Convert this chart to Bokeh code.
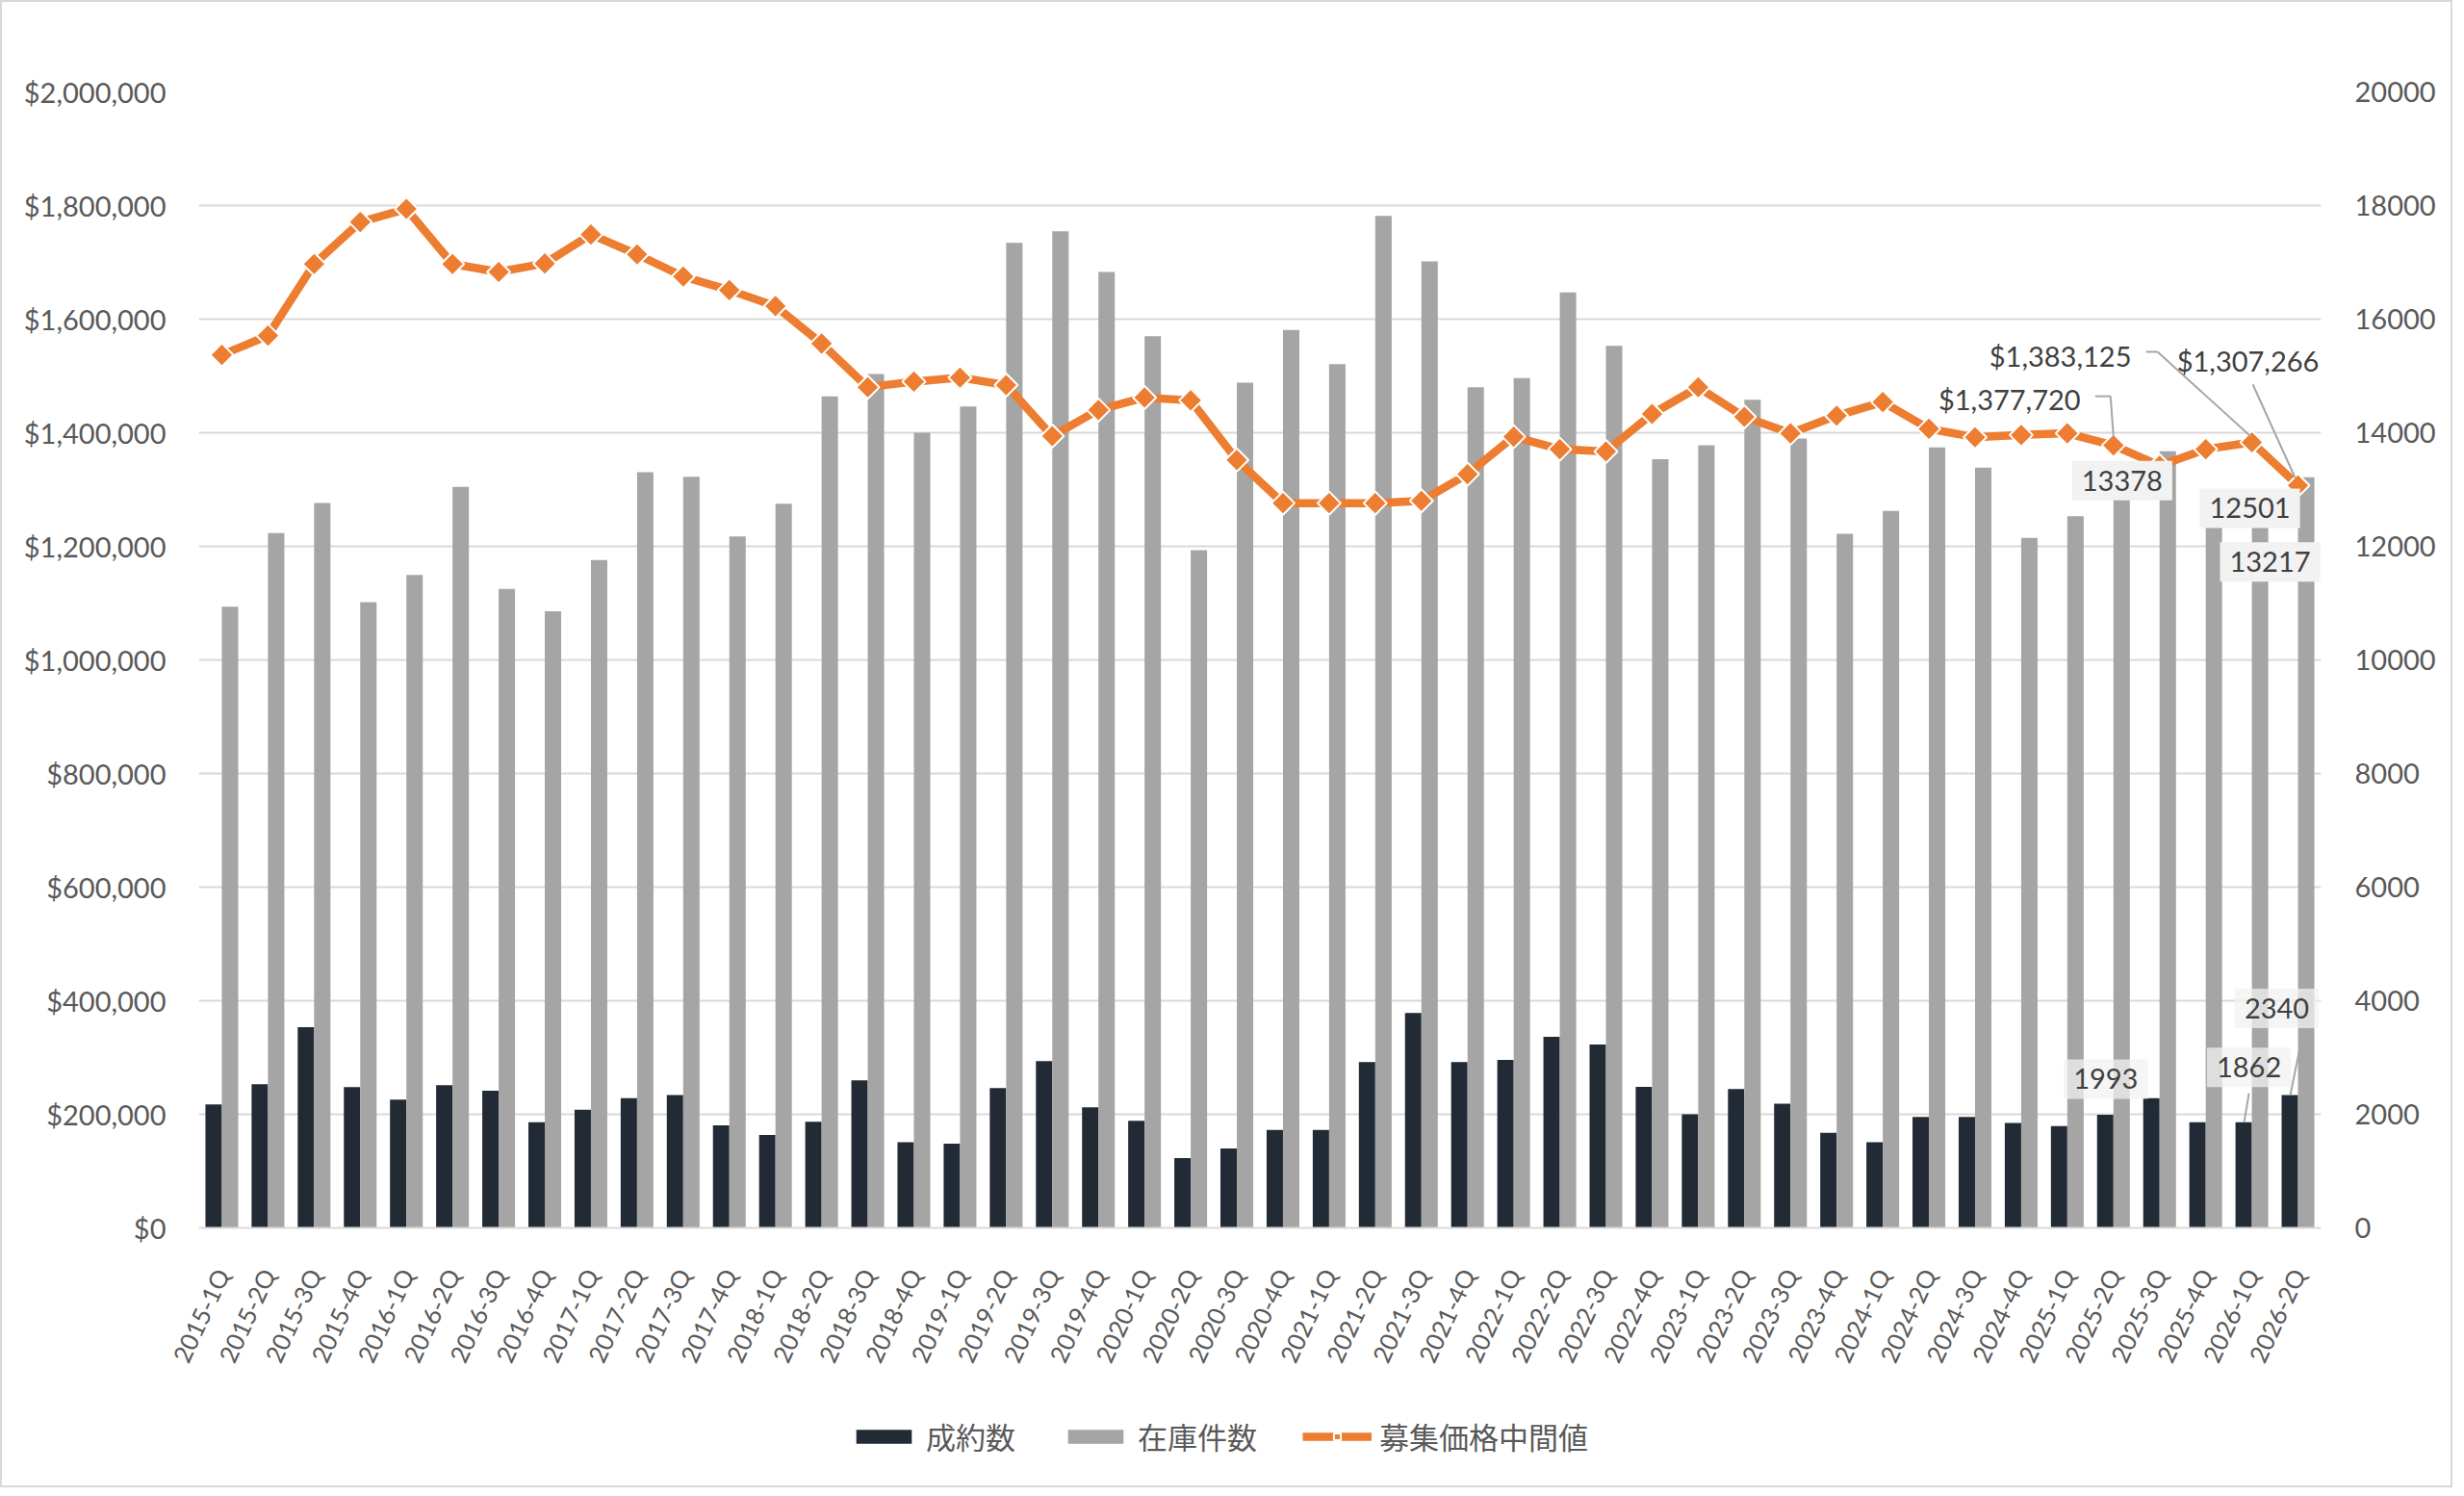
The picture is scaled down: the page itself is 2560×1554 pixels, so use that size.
import math
from bokeh.plotting import figure
from bokeh.layouts import column
from bokeh.models import (FactorRange, Range1d, LinearAxis, FixedTicker, NumeralTickFormatter,
                          ColumnDataSource, Legend, LegendItem, Label, Arrow)
from bokeh.transform import dodge
from bokeh.embed import file_html
from bokeh.resources import INLINE

# ---------------- data ----------------
quarters = ["2015-1Q", "2015-2Q", "2015-3Q", "2015-4Q",
            "2016-1Q", "2016-2Q", "2016-3Q", "2016-4Q",
            "2017-1Q", "2017-2Q", "2017-3Q", "2017-4Q",
            "2018-1Q", "2018-2Q", "2018-3Q", "2018-4Q",
            "2019-1Q", "2019-2Q", "2019-3Q", "2019-4Q",
            "2020-1Q", "2020-2Q", "2020-3Q", "2020-4Q",
            "2021-1Q", "2021-2Q", "2021-3Q", "2021-4Q",
            "2022-1Q", "2022-2Q", "2022-3Q", "2022-4Q",
            "2023-1Q", "2023-2Q", "2023-3Q", "2023-4Q",
            "2024-1Q", "2024-2Q", "2024-3Q", "2024-4Q",
            "2025-1Q", "2025-2Q", "2025-3Q", "2025-4Q",
            "2026-1Q", "2026-2Q"]

sales = [2175, 2530, 3532, 2479, 2259, 2513, 2417, 1859, 2079, 2282, 2338, 1803,
         1634, 1870, 2597, 1510, 1482, 2462, 2935, 2124, 1887, 1228, 1397, 1724,
         1724, 2918, 3786, 2918, 2958, 3363, 3228, 2485, 2000, 2445, 2186, 1673,
         1510, 1955, 1955, 1848, 1792, 1993, 2282, 1859, 1862, 2340]

inventory = [10938, 12231, 12762, 11017, 11497, 13045, 11248, 10858, 11757, 13305, 13226, 12175,
             12751, 14638, 15034, 14000, 14463, 17345, 17548, 16830, 15700, 11932, 14881, 15808,
             15209, 17819, 17017, 14802, 14960, 16469, 15531, 13536, 13779, 14582, 13900, 12220,
             12621, 13740, 13384, 12147, 12531, 13378, 13672, 12700, 12501, 13217]

price = [1537000, 1571000, 1697000, 1771000, 1794000, 1697000, 1683000, 1698000, 1749000,
         1714000, 1675000, 1651000, 1623000, 1557000, 1480000, 1490000, 1497000, 1484000,
         1394000, 1440000, 1462000, 1457000, 1352000, 1276000, 1276000, 1276000, 1280000,
         1327000, 1393000, 1371000, 1367000, 1433000, 1480000, 1428000, 1399000, 1430000,
         1454000, 1407000, 1392000, 1396000, 1399000, 1377720, 1342000, 1371000, 1383125,
         1307266]

left_ticks = [0, 200000, 400000, 600000, 800000, 1000000, 1200000, 1400000, 1600000, 1800000, 2000000]
right_ticks = [0, 2000, 4000, 6000, 8000, 10000, 12000, 14000, 16000, 18000, 20000]

series_names = ["成約数", "在庫件数", "募集価格中間値"]
labelled = [41, 44, 45]   # categories carrying data labels

# ---------------- style ----------------
FRAME_W, FRAME_H = 2205, 1180
BORDER_L, BORDER_R = 204, 135
FIG_W = BORDER_L + FRAME_W + BORDER_R
DARK, GRAY, ORANGE = "#222A35", "#A5A5A5", "#ED7D31"
TXT = "#595959"
LBL = "#404040"
LEAD = "#A6A6A6"
FONT = "Lato"
FS = "29px"

src = ColumnDataSource(dict(q=quarters, sales=sales, inv=inventory, price=price))

p = figure(x_range=FactorRange(factors=quarters, range_padding=0, factor_padding=0),
           y_range=Range1d(left_ticks[0], left_ticks[-1]),
           frame_width=FRAME_W, frame_height=FRAME_H,
           min_border_left=BORDER_L, min_border_right=BORDER_R, min_border_top=93,
           min_border_bottom=170,
           output_backend="svg", toolbar_location=None,
           background_fill_color="white", border_fill_color="white", outline_line_color=None)
p.extra_y_ranges = {"cnt": Range1d(right_ticks[0], right_ticks[-1])}

# axes
p.yaxis.ticker = FixedTicker(ticks=left_ticks)
p.yaxis.formatter = NumeralTickFormatter(format="$0,0")
p.yaxis.axis_line_color = None
p.yaxis.major_tick_line_color = None
p.yaxis.minor_tick_line_color = None
p.yaxis.major_label_standoff = 28
p.yaxis.major_label_text_font = FONT
p.yaxis.major_label_text_font_size = FS
p.yaxis.major_label_text_color = TXT

raxis = LinearAxis(y_range_name="cnt", ticker=FixedTicker(ticks=right_ticks),
                   axis_line_color=None, major_tick_line_color=None, minor_tick_line_color=None,
                   major_label_standoff=29, major_label_text_font=FONT,
                   major_label_text_font_size=FS, major_label_text_color=TXT)
p.add_layout(raxis, "right")

p.xaxis.axis_line_color = "#D9D9D9"
p.xaxis.axis_line_width = 2
p.xaxis.major_tick_line_color = None
p.xaxis.minor_tick_line_color = None
p.xaxis.major_label_orientation = math.radians(65)
p.xaxis.major_label_standoff = 38
p.xaxis.major_label_text_font = FONT
p.xaxis.major_label_text_font_size = "25.5px"
p.xaxis.major_label_text_color = TXT

p.xgrid.grid_line_color = None
p.ygrid.ticker = FixedTicker(ticks=left_ticks)
p.ygrid.grid_line_color = "#D9D9D9"
p.ygrid.grid_line_width = 2

# bars
BW = 0.355
bar_sales = dict(fill_color=DARK, line_color=None)
bar_inv = dict(fill_color=GRAY, line_color=None)
line_style = dict(line_color=ORANGE, line_width=8.5, line_join="round")
pt_style = dict(marker="square", angle=math.pi / 4, size=17, fill_color=ORANGE,
                line_color="white", line_width=2)

p.vbar(x=dodge("q", -BW / 2, range=p.x_range), top="sales", width=BW, source=src,
       y_range_name="cnt", **bar_sales)
p.vbar(x=dodge("q", BW / 2, range=p.x_range), top="inv", width=BW, source=src,
       y_range_name="cnt", **bar_inv)

# line
p.line(x="q", y="price", source=src, **line_style)
p.scatter(x="q", y="price", source=src, **pt_style)

# ---------------- data labels ----------------
px_x = FRAME_W / len(quarters)                                    # px per category
px_left = FRAME_H / (left_ticks[-1] - left_ticks[0])              # px per $ unit
px_right = FRAME_H / (right_ticks[-1] - right_ticks[0])           # px per count unit

def add_label(i, yv, text, off, rng=None, box=None, alpha=1.0):
    kw = dict(x=i + 0.5, y=yv, x_offset=off[0], y_offset=-off[1], text=text,
              text_align="center", text_baseline="middle", text_font=FONT,
              text_font_size=FS, text_color=LBL)
    if rng:
        kw["y_range_name"] = rng
    if box:
        kw.update(background_fill_color=box, background_fill_alpha=alpha, padding=10)
    p.add_layout(Label(**kw))

def add_leader(i, yv, pts, px_per_unit, rng=None):
    for (dx0, dy0), (dx1, dy1) in zip(pts[:-1], pts[1:]):
        kw = dict(end=None, line_color=LEAD, line_width=2,
                  x_start=i + 0.5 + dx0 / px_x, y_start=yv - dy0 / px_per_unit,
                  x_end=i + 0.5 + dx1 / px_x, y_end=yv - dy1 / px_per_unit)
        if rng:
            kw["y_range_name"] = rng
        p.add_layout(Arrow(**kw))

# offsets (px, +x right, +y down) of label centres from their data point
# (labels that would fall outside the plot frame are kept just inside it)
price_off = [(-108, -48), (-199, -90), (-52, -130)]
inv_off = [(9, 13), (-2, -10), (-29, 88)]
sales_off = [(-8, -37), (-3, -57), (-22, -90)]
price_lead = [[(-19, -51), (-3, -51), (0, -9)],
              [(-110, -94), (-98, -94), (-1, -6)],
              [(-47, -105), (-3, -8)]]
sales_lead = [None, [(-3, -30), (-8, 0)], [(5, -64), (-8, 0)]]

for k, i in enumerate(labelled):
    add_leader(i, price[i], price_lead[k], px_left)
    if sales_lead[k]:
        add_leader(i, sales[i], sales_lead[k], px_right, rng="cnt")
for k, i in enumerate(labelled):
    add_label(i, price[i], "${:,}".format(price[i]), price_off[k])
    add_label(i, inventory[i], str(inventory[i]), inv_off[k], rng="cnt", box="#F2F2F2")
    add_label(i, sales[i], str(sales[i]), sales_off[k], rng="cnt", box="#F2F2F2", alpha=0.75)

# ---------------- legend (own strip below the chart, frame aligned with the chart) ----------------
LEG_H = 98
pl = figure(frame_width=FRAME_W, frame_height=LEG_H,
            min_border_left=BORDER_L, min_border_right=BORDER_R, min_border_top=0,
            min_border_bottom=0,
            x_range=Range1d(0, 1), y_range=Range1d(0, 1),
            x_axis_type=None, y_axis_type=None,
            output_backend="svg", toolbar_location=None,
            background_fill_color=None, border_fill_color=None, outline_line_color=None)
pl.grid.visible = False
# one sample row kept outside the strip's visible range: only the legend keys show it
key_src = ColumnDataSource(dict(x=[-10], y=[-10], top=[-10]))
l1 = pl.vbar(x="x", top="top", width=0.1, source=key_src, **bar_sales)
l2 = pl.vbar(x="x", top="top", width=0.1, source=key_src, **bar_inv)
l3 = pl.line(x="x", y="y", source=key_src, **line_style)
l4 = pl.scatter(x="x", y="y", source=key_src, **pt_style)
legend = Legend(items=[LegendItem(label=series_names[0], renderers=[l1]),
                       LegendItem(label=series_names[1], renderers=[l2]),
                       LegendItem(label=series_names[2], renderers=[l3, l4])],
                orientation="horizontal", location=(676, 29),
                glyph_width=72, glyph_height=18, label_standoff=8, spacing=47,
                padding=0, margin=0, border_line_color=None, background_fill_alpha=0,
                label_text_font="Noto Sans CJK JP", label_text_font_size="31px",
                label_text_color=TXT)
pl.add_layout(legend)

layout = column(p, pl, spacing=0)
layout.styles = {"border": "2px solid #D9D9D9", "background-color": "white"}

open("out.html", "w").write(file_html(layout, INLINE))
